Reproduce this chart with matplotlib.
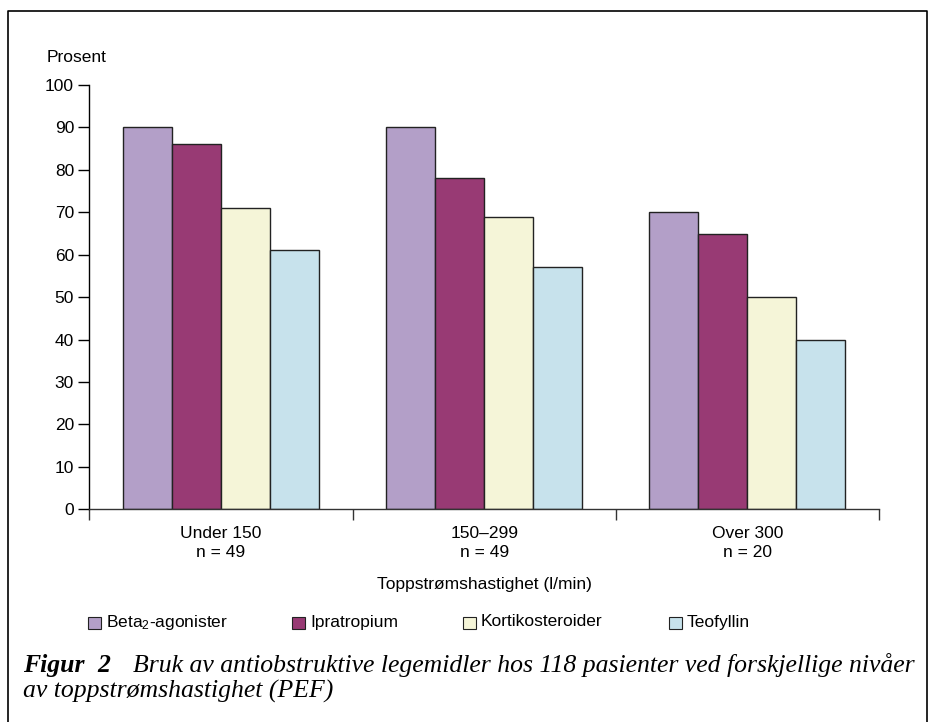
import matplotlib
matplotlib.use("Agg")
import matplotlib.pyplot as plt
from matplotlib.patches import Rectangle
from matplotlib.lines import Line2D
import numpy as np

plt.rcParams['font.family'] = ['Liberation Sans', 'DejaVu Sans']
plt.rcParams['mathtext.default'] = 'regular'

# data
groups = ["Under 150\nn = 49", "150\u2013299\nn = 49", "Over 300\nn = 20"]
series = ["Beta$_2$-agonister", "Ipratropium", "Kortikosteroider", "Teofyllin"]
beta = [90, 90, 70]
ipra = [86, 78, 65]
korti = [71, 69, 50]
teo = [61, 57, 40]
values = [beta, ipra, korti, teo]
colors = ["#B39FC8", "#983A74", "#F5F5D8", "#C7E2EC"]

FS = 12.5
CAP = 18.5

fig = plt.figure(figsize=(9.3, 7.22), dpi=100)
ax = fig.add_axes([89.3 / 930, 212.7 / 722, (879 - 89.3) / 930, (509.3 - 85) / 722])

x = np.arange(len(groups))
w = 0.186
for i, (vals, c) in enumerate(zip(values, colors)):
    ax.bar(x + (i - 1.5) * w, vals, w, color=c, edgecolor="#222222", linewidth=1.0, zorder=2)

ax.set_xlim(-0.5, 2.5)
ax.set_ylim(0, 100)
ax.set_yticks(range(0, 101, 10))
ax.tick_params(axis='y', direction='out', length=8, width=1, labelsize=FS, pad=3)

# separator ticks between groups, labels at group centres
ax.set_xticks([-0.5, 0.5, 1.5, 2.5])
ax.set_xticklabels([])
ax.tick_params(axis='x', which='major', direction='out', length=8, width=1, color="#333333")
ax.set_xticks(x, minor=True)
ax.set_xticklabels(groups, minor=True, fontsize=FS, linespacing=1.35)
ax.tick_params(axis='x', which='minor', length=0, pad=12)

for s in ['top', 'right']:
    ax.spines[s].set_visible(False)
ax.spines['left'].set_linewidth(1)
ax.spines['bottom'].set_linewidth(1)
ax.spines['bottom'].set_color("#333333")

fig.text(47 / 930, 1 - 57 / 722, "Prosent", fontsize=FS, va='center', ha='left')
fig.text(484 / 930, 1 - 584 / 722, "Toppstrømshastighet (l/min)", fontsize=FS, va='center', ha='center')

# legend
leg_x = [88, 292, 463, 669]
for lx, lab, c in zip(leg_x, series, colors):
    fig.patches.append(Rectangle((lx / 930, 1 - 629 / 722), 13 / 930, 12 / 722, transform=fig.transFigure,
                                 facecolor=c, edgecolor="#222222", linewidth=0.8))
    fig.text((lx + 18) / 930, 1 - 622 / 722, lab, fontsize=FS, va='center', ha='left')

# caption
serif = dict(family='Liberation Serif', style='italic', fontsize=CAP, va='baseline')
fig.text(23 / 930, 1 - 672 / 722, "Figur", weight='bold', ha='left', **serif)
fig.text(97 / 930, 1 - 672 / 722, "2", weight='bold', ha='left', **serif)
fig.text(915 / 930, 1 - 672 / 722,
         "Bruk av antiobstruktive legemidler hos 118 pasienter ved forskjellige nivåer",
         ha='right', **serif)
fig.text(23 / 930, 1 - 698 / 722, "av toppstrømshastighet (PEF)", ha='left', **serif)

# frame (open at the bottom)
fx0, fx1, fy0 = 8 / 930, 927 / 930, 1 - 11 / 722
fig.lines.append(Line2D([fx0, fx0, fx1, fx1], [0, fy0, fy0, 0], transform=fig.transFigure,
                        color="black", linewidth=1.2))

fig.savefig("out.png", dpi=100)
